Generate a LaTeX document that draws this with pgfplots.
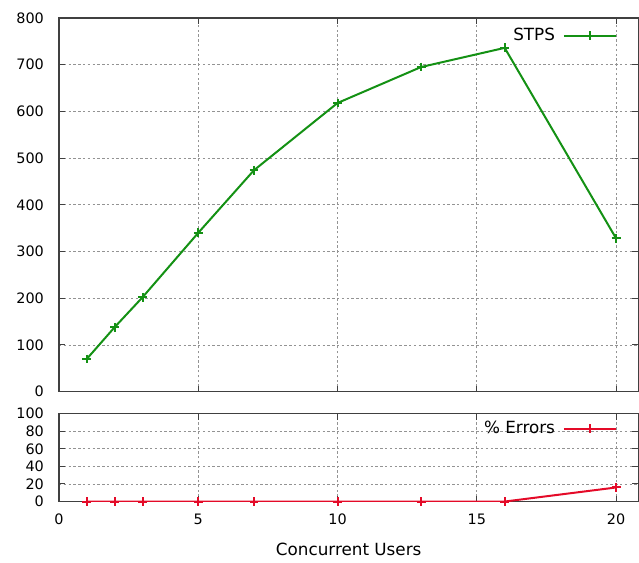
\documentclass[border=0pt]{standalone}
\usepackage{pgfplots}
\pgfplotsset{compat=1.18}
\usepackage{fontspec}
\setmainfont{DejaVu Sans}

\definecolor{gpgreen}{RGB}{20,145,20}
\definecolor{gpred}{RGB}{228,10,40}

\pgfplotsset{
  gp/.style={
    scale only axis,
    width=290pt,
    xmin=0, xmax=20.8,
    xtick={0,5,10,15,20},
    grid=major,
    major grid style={dash pattern=on 1.2pt off 1.2pt, gray!85, line width=0.4pt},
    axis line style={black!75, line width=0.6pt},
    tick style={black!75, line width=0.5pt},
    tick align=inside,
    major tick length=3pt,
    tick label style={font=\fontsize{7.2}{9}\selectfont},
    yticklabel style={xshift=-4pt},
    xticklabel style={yshift=-2.5pt},
    /pgf/number format/assume math mode=true,
    legend style={draw=none, fill=none, font=\fontsize{8.4}{10}\selectfont,
      at={(0.967,0.99)}, anchor=north east, inner sep=1pt,
      nodes={inner xsep=4pt}},
    legend plot pos=right,
    legend image code/.code={
      \draw[#1] (0pt,0pt) -- (26pt,0pt);
      \draw[#1, mark repeat=1] plot coordinates {(13pt,0pt)};
    },
  },
}

\begin{document}
\begin{tikzpicture}
\begin{axis}[gp,
  name=top,
  height=187pt,
  ymin=0, ymax=800,
  ytick={0,100,...,800},
  xticklabels={},
]
\addplot[gpgreen, line width=1pt, mark=+, mark size=2.2pt] coordinates {
  (1,70) (2,138) (3,202) (5,340) (7,474) (10,618) (13,695) (16,736) (20,328)
};
\addlegendentry{STPS}
\end{axis}
\begin{axis}[gp,
  name=bot,
  at={(top.south west)}, anchor=north west, yshift=-11pt,
  height=44pt,
  ymin=0, ymax=100,
  ytick={0,20,...,100},
  xlabel={Concurrent Users},
  xlabel style={font=\fontsize{8.4}{10}\selectfont, yshift=-2.5pt},
]
\addplot[gpred, line width=1pt, mark=+, mark size=2.2pt] coordinates {
  (1,0) (2,0) (3,0) (5,0) (7,0) (10,0) (13,0) (16,0) (20,16)
};
\addlegendentry{\% Errors}
\end{axis}
\path ([xshift=-29.5pt,yshift=9pt]top.north west) ([yshift=-27.5pt]bot.south east);
\end{tikzpicture}
\end{document}
